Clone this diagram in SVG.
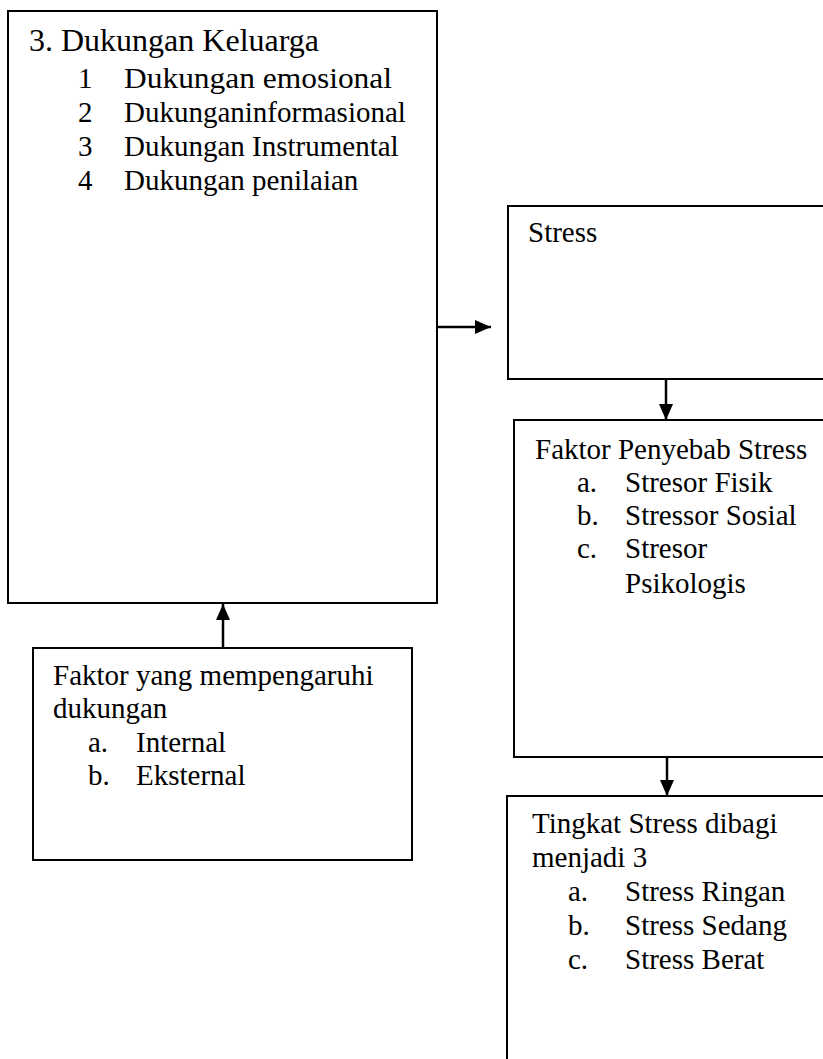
<svg xmlns="http://www.w3.org/2000/svg" width="823" height="1059" viewBox="0 0 823 1059" font-family="'Liberation Serif', 'DejaVu Serif', serif">
<style>
.box{fill:#fff;stroke:#000;stroke-width:2}
text{font-family:'Liberation Serif','DejaVu Serif',serif;font-size:29px;fill:#000}
.big{font-size:32px}
.con{stroke:#000;stroke-width:2.5;fill:none;marker-end:url(#ah)}
</style>
<defs>
<marker id="ah" viewBox="0 0 16 14" markerWidth="16" markerHeight="14" refX="16" refY="7" orient="auto" markerUnits="userSpaceOnUse">
<path d="M0,0 L16,7 L0,14 z" fill="#000"/>
</marker>
</defs>
<rect width="823" height="1059" fill="#fff"/>
<g id="node-dukungan">
<rect class="box" x="8" y="11" width="429" height="592"/>
<text class="big" x="29" y="51">3. Dukungan Keluarga</text>
<text x="78" y="88">1</text><text x="124" y="88" textLength="268" lengthAdjust="spacingAndGlyphs">Dukungan emosional</text>
<text x="78" y="122">2</text><text x="124" y="122">Dukunganinformasional</text>
<text x="78" y="156">3</text><text x="124" y="156">Dukungan Instrumental</text>
<text x="78" y="190">4</text><text x="124" y="190">Dukungan penilaian</text>
</g>
<g id="node-faktor-dukungan">
<rect class="box" x="33" y="648" width="379" height="212"/>
<text x="53" y="685">Faktor yang mempengaruhi</text>
<text x="53" y="718">dukungan</text>
<text x="88" y="752">a.</text><text x="136" y="752">Internal</text>
<text x="88" y="785">b.</text><text x="136" y="785">Eksternal</text>
</g>
<g id="node-stress">
<rect class="box" x="508" y="206" width="330" height="173"/>
<text x="528" y="242">Stress</text>
</g>
<g id="node-penyebab">
<rect class="box" x="514" y="420" width="330" height="337"/>
<text x="535" y="459">Faktor Penyebab Stress</text>
<text x="577" y="492">a.</text><text x="625" y="492">Stresor Fisik</text>
<text x="577" y="525">b.</text><text x="625" y="525">Stressor Sosial</text>
<text x="577" y="558">c.</text><text x="625" y="558">Stresor</text>
<text x="625" y="593">Psikologis</text>
</g>
<g id="node-tingkat">
<rect class="box" x="507" y="796" width="330" height="280"/>
<text x="532" y="833">Tingkat Stress dibagi</text>
<text x="532" y="867">menjadi 3</text>
<text x="568" y="901">a.</text><text x="625" y="901">Stress Ringan</text>
<text x="568" y="935">b.</text><text x="625" y="935">Stress Sedang</text>
<text x="568" y="969">c.</text><text x="625" y="969">Stress Berat</text>
</g>
<g id="connectors">
<path class="con" d="M438,327 H491"/>
<path class="con" d="M223,648 V604"/>
<path class="con" d="M666,379 V420"/>
<path class="con" d="M667,757 V796"/>
</g>
</svg>
